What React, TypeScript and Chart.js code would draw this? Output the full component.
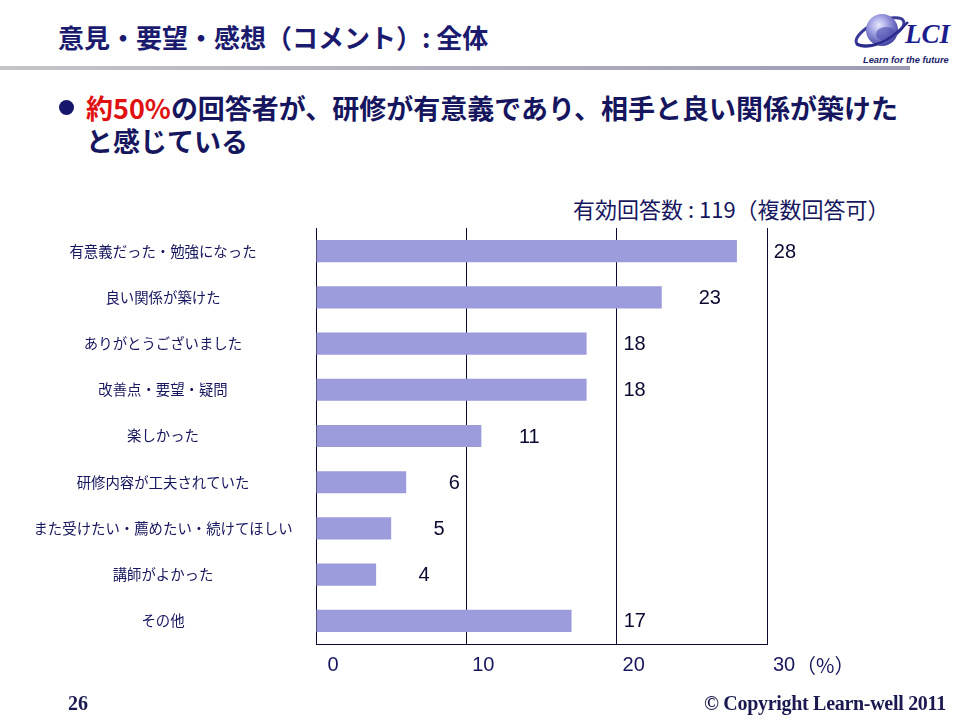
import React, { useEffect, useRef } from "react";
import { Chart, registerables } from "chart.js";

Chart.register(...registerables);

const categories = [
  "有意義だった・勉強になった",
  "良い関係が築けた",
  "ありがとうございました",
  "改善点・要望・疑問",
  "楽しかった",
  "研修内容が工夫されていた",
  "また受けたい・薦めたい・続けてほしい",
  "講師がよかった",
  "その他",
];
const values = [28, 23, 18, 18, 11, 6, 5, 4, 17];
const xTickValues = [0, 10, 20, 30];
const xTickLabels = ["0", "10", "20", "30"];
const xUnit = "（%）";

const NAVY = "#16165e";
const LINE = "#0a0a30";
const CJK = "'Noto Sans CJK JP', 'Noto Sans', sans-serif";

const labelPlugin = {
  id: "labelPlugin",
  afterDraw(chart: any) {
    const ctx = chart.ctx;
    const xs = chart.scales.x;
    const ys = chart.scales.y;
    const area = chart.chartArea;
    ctx.save();
    // category labels
    ctx.font = `14.4px ${CJK}`;
    ctx.fillStyle = NAVY;
    ctx.textAlign = "center";
    ctx.textBaseline = "middle";
    categories.forEach((c, i) => {
      ctx.fillText(c, 163, ys.getPixelForValue(i));
    });
    // value labels
    ctx.font = "20px 'Liberation Sans', Arial, sans-serif";
    ctx.fillStyle = LINE;
    ctx.textAlign = "left";
    values.forEach((v, i) => {
      const t = String(v);
      const w = ctx.measureText(t).width;
      let left = xs.getPixelForValue(v) + 48 - w / 2;
      xTickValues.forEach((g) => {
        const gx = xs.getPixelForValue(g);
        if (gx >= left - 3 && gx <= left + w + 3) left = gx + 7;
      });
      ctx.fillText(t, left, ys.getPixelForValue(i) + 1);
    });
    // x tick labels
    ctx.font = "20px 'Liberation Sans', Arial, sans-serif";
    ctx.fillStyle = NAVY;
    ctx.textAlign = "center";
    const ty = area.bottom + 21;
    xTickValues.forEach((v, i) => {
      const cx = xs.getPixelForValue(v) + 17;
      ctx.fillText(xTickLabels[i], cx, ty);
      if (i === xTickValues.length - 1) {
        const w = ctx.measureText(xTickLabels[i]).width;
        ctx.textAlign = "left";
        ctx.font = `20px ${CJK}`;
        ctx.fillText(xUnit, cx + w / 2 + 1, ty);
        ctx.textAlign = "center";
      }
    });
    ctx.restore();
  },
};

function Logo() {
  return (
    <svg
      width={110}
      height={70}
      style={{ position: "absolute", left: 850, top: 0 }}
      viewBox="0 0 110 70"
    >
      <defs>
        <radialGradient id="sph" cx="0.4" cy="0.35" r="0.7">
          <stop offset="0" stopColor="#e8e8ff" />
          <stop offset="0.45" stopColor="#9a9ae0" />
          <stop offset="1" stopColor="#3a3a9a" />
        </radialGradient>
      </defs>
      <ellipse cx="30" cy="32" rx="26" ry="10" fill="none" stroke="#3a3a9a" strokeWidth="3" transform="rotate(-25 30 32)" />
      <circle cx="32" cy="30" r="16" fill="url(#sph)" />
      <ellipse cx="36" cy="34" rx="10" ry="7" fill="#4a4aaa" opacity="0.6" />
      <path d="M6 44 Q30 52 58 22" fill="none" stroke="#2a2a8a" strokeWidth="2.5" />
      <text x="55" y="43" fontFamily="'Liberation Serif', serif" fontStyle="italic" fontWeight="bold" fontSize="27" fill="#1c1c8c">LCI</text>
      <text x="13" y="63" fontFamily="'Liberation Sans', Arial, sans-serif" fontStyle="italic" fontWeight="bold" fontSize="9.3" fill="#1c1c6c">Learn for the future</text>
    </svg>
  );
}

export default function App() {
  const ref = useRef<HTMLCanvasElement | null>(null);
  useEffect(() => {
    if (!ref.current) return;
    const chart = new Chart(ref.current, {
      type: "bar",
      data: {
        labels: categories,
        datasets: [
          {
            data: values,
            backgroundColor: "#9c9cdc",
            barPercentage: 0.48,
            categoryPercentage: 1,
          },
        ],
      },
      options: {
        indexAxis: "y",
        responsive: false,
        animation: false,
        layout: { padding: { left: 316, right: 193, top: 228, bottom: 76 } },
        plugins: { legend: { display: false }, tooltip: { enabled: false } },
        scales: {
          x: {
            min: 0,
            max: 30,
            ticks: { display: false, stepSize: 10 },
            grid: { color: LINE, lineWidth: 1, drawTicks: false },
            border: { display: true, color: LINE, width: 1 },
          },
          y: {
            ticks: { display: false },
            grid: { display: false, drawTicks: false },
            border: { display: true, color: LINE, width: 1 },
          },
        },
      },
      plugins: [labelPlugin],
    } as any);
    return () => chart.destroy();
  }, []);

  return (
    <div
      style={{
        position: "fixed",
        left: 0,
        top: 0,
        width: 960,
        height: 720,
        background: "#ffffff",
        overflow: "hidden",
        fontFamily: CJK,
      }}
    >
      <div
        style={{
          position: "absolute",
          left: 58,
          top: 19,
          fontSize: 26,
          fontWeight: "bold",
          color: "#1a1a6e",
          whiteSpace: "nowrap",
          lineHeight: "36px",
        }}
      >
        意見・要望・感想（コメント）: 全体
      </div>
      <div
        style={{
          position: "absolute",
          left: 0,
          top: 66,
          width: 910,
          height: 4,
          background: "linear-gradient(to right, #c4c4c8, #9c9cb4)",
        }}
      />
      <Logo />
      <div
        style={{
          position: "absolute",
          left: 59,
          top: 100,
          width: 15,
          height: 15,
          borderRadius: "50%",
          background: "#16166a",
        }}
      />
      <div
        style={{
          position: "absolute",
          left: 86,
          top: 91,
          width: 870,
          fontSize: 27,
          fontWeight: "bold",
          color: "#16165e",
          lineHeight: "33px",
          whiteSpace: "nowrap",
        }}
      >
        <span style={{ color: "#e01010" }}>約50%</span>
        の回答者が、研修が有意義であり、相手と良い関係が築けた
        <br />
        と感じている
      </div>
      <div
        style={{
          position: "absolute",
          left: 573,
          top: 193,
          fontSize: 22,
          color: "#16165e",
          whiteSpace: "nowrap",
          lineHeight: "30px",
        }}
      >
        有効回答数 : 119（複数回答可）
      </div>
      <canvas
        ref={ref}
        width={960}
        height={720}
        style={{ position: "absolute", left: 0, top: 0, width: 960, height: 720 }}
      />
      <div
        style={{
          position: "absolute",
          left: 68,
          top: 692,
          fontFamily: "'Liberation Serif', serif",
          fontWeight: "bold",
          fontSize: 20,
          color: "#1a1a50",
        }}
      >
        26
      </div>
      <div
        style={{
          position: "absolute",
          left: 704,
          top: 692,
          fontFamily: "'Liberation Serif', serif",
          fontWeight: "bold",
          fontSize: 20,
          color: "#1a1a50",
          whiteSpace: "nowrap",
          letterSpacing: -0.3,
        }}
      >
        © Copyright Learn-well 2011
      </div>
    </div>
  );
}
